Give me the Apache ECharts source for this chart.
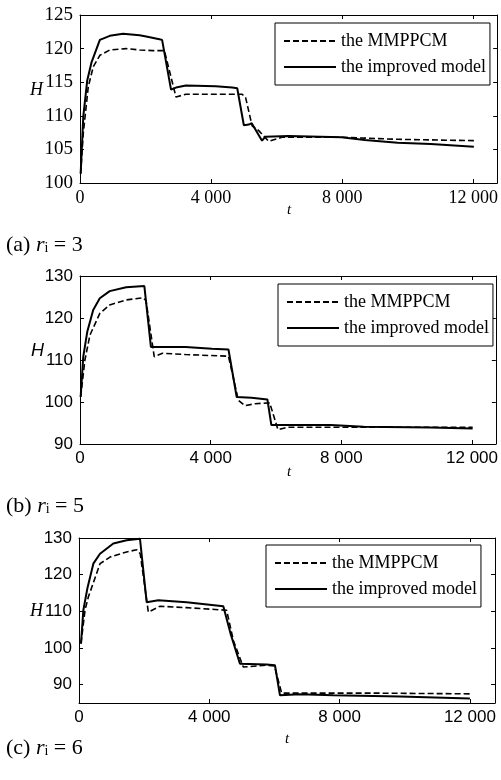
<!DOCTYPE html>
<html>
<head>
<meta charset="utf-8">
<script src="https://cdn.jsdelivr.net/npm/echarts@6/dist/echarts.min.js"></script>
<style>html,body{margin:0;padding:0;background:#fff;}#c{width:501px;height:780px;}</style>
</head>
<body>
<div id="c"></div>
<script>
// Panel (a) r_i = 3
var aDashT  = [20, 100, 252, 404, 606, 909, 1414, 1818, 2222, 2575, 2929, 3232, 4141, 4949, 5050, 5252, 5454, 5757, 6161, 8000, 9696, 12019];
var aDashH  = [101.4, 107.4, 114.3, 117.3, 119.0, 119.8, 120.0, 119.8, 119.7, 119.7, 112.8, 113.2, 113.2, 113.2, 112.8, 108.5, 107.8, 106.2, 106.8, 106.8, 106.5, 106.3];
var aSolidT = [20, 100, 222, 354, 606, 909, 1313, 1818, 2020, 2424, 2505, 2778, 2929, 3232, 4141, 4646, 4798, 5000, 5151, 5240, 5555, 5656, 6363, 7979, 8686, 9696, 10706, 12019];
var aSolidH = [101.4, 109.9, 115.3, 118.0, 121.3, 121.9, 122.2, 122.0, 121.8, 121.4, 121.3, 113.9, 114.2, 114.5, 114.4, 114.2, 114.1, 108.6, 108.7, 108.9, 106.3, 106.9, 107.0, 106.8, 106.4, 106.0, 105.8, 105.4];

// Panel (b) r_i = 5
var bDashT  = [20, 150, 303, 606, 909, 1414, 1919, 2020, 2272, 2525, 3232, 4545, 4848, 5050, 5353, 5807, 6060, 6363, 8000, 12019];
var bDashH  = [101.2, 110.0, 115.9, 121.1, 123.1, 124.3, 124.8, 124.2, 110.8, 111.6, 111.3, 110.9, 100.4, 99.1, 99.6, 99.8, 93.4, 94.0, 94.0, 94.0];
var bSolidT = [20, 100, 222, 404, 606, 909, 1414, 1970, 2171, 2323, 3232, 4040, 4545, 4797, 4850, 5252, 5737, 5858, 7676, 8686, 10706, 12019];
var bSolidH = [101.2, 110.8, 116.7, 121.9, 124.7, 126.4, 127.3, 127.6, 113.1, 113.1, 113.1, 112.7, 112.5, 101.2, 100.8, 101.0, 100.6, 94.5, 94.5, 94.1, 93.9, 93.7];

// Panel (c) r_i = 6
var cDashT  = [61, 184, 286, 645, 951, 1463, 1770, 1880, 2128, 2486, 3304, 4532, 4740, 5043, 5759, 6000, 6220, 9000, 12000];
var cDashH  = [101.2, 110.3, 113.9, 123.0, 124.8, 126.2, 126.8, 125.7, 109.8, 111.4, 111.0, 110.3, 102.0, 94.8, 95.3, 95.1, 87.7, 87.7, 87.5];
var cSolidT = [61, 133, 256, 440, 645, 1054, 1463, 1872, 1920, 2077, 2435, 3304, 4430, 4650, 4941, 5759, 6015, 6169, 6782, 7805, 9851, 12000];
var cSolidH = [101.2, 110.3, 116.2, 123.0, 125.7, 128.5, 129.4, 129.8, 129.8, 112.5, 113.0, 112.5, 111.4, 104.0, 95.7, 95.5, 95.3, 87.1, 87.4, 87.1, 86.8, 86.2];

var seriesNames = ['the MMPPCM', 'the improved model'];
var xTicks = [0, 4000, 8000, 12000];
var yTicksA = [100, 105, 110, 115, 120, 125];
var yTicksB = [90, 100, 110, 120, 130];
var yTicksC = [90, 100, 110, 120, 130];
var captions = ['(a)', '(b)', '(c)'];
var captionR = ['3', '5', '6'];

function zip(t, h) { return t.map(function (v, i) { return [v, h[i]]; }); }
function fmtX(v) { return v >= 1000 ? Math.floor(v / 1000) + ' ' + String(v % 1000).padStart(3, '0') : String(v); }

var SERIF = 'Liberation Serif';
var SANS = 'Liberation Sans';

var grids = [
  { left: 80, top: 15, width: 420, height: 168 },
  { left: 80, top: 276, width: 420, height: 168 },
  { left: 79, top: 538, width: 416, height: 165 }
];
var xMax = [12730, 12730, 12770];
var yRange = [[100, 125], [90, 130], [85, 130]];
var yTicks = [yTicksA, yTicksB, yTicksC];
var yFont = [SERIF, SANS, SANS];
var xFont = [SERIF, SANS, SANS];
var yFontSize = [19, 17, 17];
var xFontSize = [18, 17, 17];

var xAxes = [], yAxes = [];
for (var g = 0; g < 3; g++) {
  var lineStyle = { color: '#000', width: 1 };
  xAxes.push({
    type: 'value', gridIndex: g, position: 'bottom', min: 0, max: xMax[g],
    axisLine: { show: true, onZero: false, lineStyle: lineStyle },
    axisTick: { show: true, inside: true, length: 4, customValues: xTicks, lineStyle: lineStyle },
    axisLabel: { customValues: xTicks, formatter: fmtX, color: '#000', fontFamily: xFont[g], fontSize: xFontSize[g], margin: 6 },
    splitLine: { show: false }
  });
  xAxes.push({
    type: 'value', gridIndex: g, position: 'top', min: 0, max: xMax[g],
    axisLine: { show: true, onZero: false, lineStyle: lineStyle },
    axisTick: { show: true, inside: true, length: 4, customValues: xTicks, lineStyle: lineStyle },
    axisLabel: { show: false },
    splitLine: { show: false }
  });
  yAxes.push({
    type: 'value', gridIndex: g, position: 'left', min: yRange[g][0], max: yRange[g][1],
    axisLine: { show: true, onZero: false, lineStyle: lineStyle },
    axisTick: { show: true, inside: true, length: 4, customValues: yTicks[g], lineStyle: lineStyle },
    axisLabel: { customValues: yTicks[g], color: '#000', fontFamily: yFont[g], fontSize: yFontSize[g], margin: 7 },
    splitLine: { show: false }
  });
  yAxes.push({
    type: 'value', gridIndex: g, position: 'right', min: yRange[g][0], max: yRange[g][1],
    axisLine: { show: true, onZero: false, lineStyle: lineStyle },
    axisTick: { show: true, inside: true, length: 4, customValues: yTicks[g], lineStyle: lineStyle },
    axisLabel: { show: false },
    splitLine: { show: false }
  });
}

var dashData = [zip(aDashT, aDashH), zip(bDashT, bDashH), zip(cDashT, cDashH)];
var solidData = [zip(aSolidT, aSolidH), zip(bSolidT, bSolidH), zip(cSolidT, cSolidH)];
var series = [];
for (var g2 = 0; g2 < 3; g2++) {
  series.push({
    name: seriesNames[0], type: 'line', xAxisIndex: g2 * 2, yAxisIndex: g2 * 2,
    data: dashData[g2], symbol: 'none', smooth: false, animation: false, color: '#000',
    itemStyle: { color: '#000' },
    lineStyle: { color: '#000', width: 1.6, type: [6, 3] }
  });
  series.push({
    name: seriesNames[1], type: 'line', xAxisIndex: g2 * 2, yAxisIndex: g2 * 2,
    data: solidData[g2], symbol: 'none', smooth: false, animation: false, color: '#000',
    itemStyle: { color: '#000' },
    lineStyle: { color: '#000', width: 2 }
  });
}

var legendPos = [[275, 23], [278, 284], [266, 545]];
var legends = legendPos.map(function (p) {
  return {
    data: seriesNames, orient: 'vertical', left: p[0], top: p[1],
    backgroundColor: '#fff', borderColor: '#000', borderWidth: 1,
    padding: [9, 4, 9, 8], itemWidth: 52, itemHeight: 14, itemGap: 8,
    selectedMode: false,
    itemStyle: { opacity: 0 },
    lineStyle: { width: 2 },
    textStyle: { fontFamily: SERIF, fontSize: 18, color: '#000' }
  };
});

var graphics = [];
// axis titles
var hPos = [[30, 91, SERIF], [31, 352, SANS], [30, 612, SERIF]];
hPos.forEach(function (p) {
  graphics.push({ type: 'text', left: p[0], top: p[1] - 10, style: { text: 'H', fontFamily: p[2], fontStyle: 'italic', fontSize: 18, fill: '#000' } });
});
var tPos = [[287, 211], [287, 473], [285, 740]];
tPos.forEach(function (p) {
  graphics.push({ type: 'text', left: p[0], top: p[1] - 8, style: { text: 't', fontFamily: SERIF, fontStyle: 'italic', fontSize: 15, fill: '#000' } });
});
// captions
var capY = [247, 508, 750];
for (var k = 0; k < 3; k++) {
  graphics.push({
    type: 'text', left: 6, top: capY[k] - 13,
    style: {
      text: '{n|' + captions[k] + ' }{r|r}{s|i}{n| = ' + captionR[k] + '}',
      rich: {
        n: { fontFamily: SERIF, fontSize: 22, fill: '#000' },
        r: { fontFamily: SERIF, fontSize: 22, fontStyle: 'italic', fill: '#000' },
        s: { fontFamily: SERIF, fontSize: 14, fill: '#000', padding: [6, 0, 0, 0] }
      }
    }
  });
}

var chart = echarts.init(document.getElementById('c'), null, { renderer: 'canvas' });
chart.setOption({
  animation: false,
  backgroundColor: '#fff',
  grid: grids,
  xAxis: xAxes,
  yAxis: yAxes,
  legend: legends,
  series: series,
  graphic: graphics
});
</script>
</body>
</html>
